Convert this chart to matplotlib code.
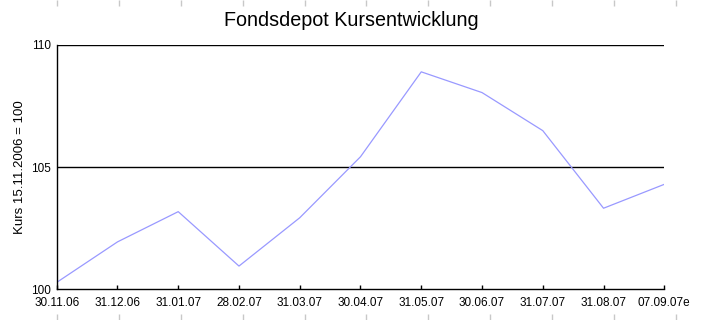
import matplotlib
matplotlib.use('agg')
import matplotlib.pyplot as plt

plt.rcParams['font.family'] = ['Liberation Sans', 'DejaVu Sans']

dates = ['30.11.06', '31.12.06', '31.01.07', '28.02.07', '31.03.07', '30.04.07',
         '31.05.07', '30.06.07', '31.07.07', '31.08.07', '07.09.07e']
kurs = [100.27, 101.93, 103.17, 100.94, 102.92, 105.42,
        108.90, 108.05, 106.49, 103.31, 104.29]
y_ticks = [100, 105, 110]

W, H = 702, 320
fig = plt.figure(figsize=(W / 100, H / 100), dpi=100)

# main plot area
ax_w = 664.3 - 56.7
ax = fig.add_axes([56.7 / W, 1 - 289 / H, ax_w / W, (289 - 45) / H])
x = list(range(len(dates)))
ax.plot(x, kurs, color='#9999ff', lw=0.9)
ax.set_xlim(0, len(dates) - 1)
ax.set_ylim(100, 110)
ax.set_yticks(y_ticks)
ax.set_yticklabels([str(v) for v in y_ticks], fontsize=8.5)
ax.set_xticks(x)
ax.set_xticklabels(dates, fontsize=8.5)
for v in y_ticks[1:]:
    ax.axhline(v, color='black', lw=1.0, zorder=1)
ax.spines['top'].set_visible(False)
ax.spines['right'].set_visible(False)
ax.spines['left'].set_linewidth(1.0)
ax.spines['bottom'].set_linewidth(1.0)
ax.tick_params(axis='x', direction='in', length=3, width=1.0, pad=6)
ax.tick_params(axis='y', length=0, pad=4)
ax.set_ylabel('Kurs 15.11.2006 = 100', fontsize=9.5)
ax.yaxis.set_label_coords((26 - 56.7) / ax_w, 0.5)

# faint grey marks along top and bottom edge of the picture
ax2 = fig.add_axes([56.7 / W, 0, (676.3 - 56.7) / W, 1])
ax2.patch.set_visible(False)
for s in ax2.spines.values():
    s.set_visible(False)
ax2.set_xlim(0, len(dates) - 1)
ax2.set_xticks(x)
ax2.set_yticks([])
ax2.tick_params(axis='x', direction='in', top=True, bottom=True, length=4,
                width=1.0, color='#c8c8c8', labelbottom=False)

fig.text(351 / W, 1 - 21 / H, 'Fondsdepot Kursentwicklung', fontsize=14.2,
         ha='center', va='center')

fig.savefig('out.png', dpi=100)
